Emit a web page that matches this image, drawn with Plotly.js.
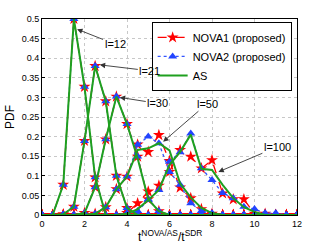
<!DOCTYPE html>
<html>
<head>
<meta charset="utf-8">
<script src="https://cdn.plot.ly/plotly-3.0.1.min.js"></script>
<style>html,body{margin:0;padding:0;background:#fff;}#chart{width:327px;height:243px;}</style>
</head>
<body>
<div id="chart"></div>
<script>
const xValues = [0,0.5,1,1.5,2,2.5,3,3.5,4,4.5,5,5.5,6,6.5,7,7.5,8,8.5,9,9.5,10,10.5,11,11.5,12];

const curveLabels = ['l=12','l=21','l=30','l=50','l=100'];
const xAxisTitle = 't<sup>NOVA/AS</sup>/t<sup>SDR</sup>';

// AS (green)
const as_l12  = [0,0,0.077,0.5,0.327,0.096,0,0,0,0,0,0,0,0,0,0,0,0,0,0,0,0,0,0,0];
const as_l21  = [0,0,0.002,0.021,0.189,0.38,0.29,0.1,0.018,0,0,0,0,0,0,0,0,0,0,0,0,0,0,0,0];
const as_l30  = [0,0,0,0,0.005,0.071,0.193,0.302,0.232,0.145,0.04,0.01,0,0,0,0,0,0,0,0,0,0,0,0,0];
const as_l50  = [0,0,0,0,0,0.003,0.02,0.066,0.098,0.166,0.17,0.183,0.165,0.08,0.045,0.018,0.005,0,0,0,0,0,0,0,0];
const as_l100 = [0,0,0,0,0,0,0,0,0.003,0.015,0.038,0.064,0.128,0.161,0.205,0.118,0.115,0.077,0.043,0.02,0.008,0,0,0,0];

// NOVA1 (proposed) - red stars
const nova1_l12  = [0,0,0.077,0.5,0.327,0.096,0,0,0,0,0,0,0,0,0,0,0,0,0,0,0,0,0,0,0];
const nova1_l21  = [0,0,0.002,0.021,0.189,0.38,0.29,0.1,0.018,0,0,0,0,0,0,0,0,0,0,0,0,0,0,0,0];
const nova1_l30  = [0,0,0,0,0.005,0.071,0.193,0.302,0.232,0.149,0.04,0.01,0,0,0,0,0,0,0,0,0,0,0,0,0];
const nova1_l50  = [0,0,0,0,0,0.003,0.02,0.066,0.098,0.18,0.161,0.204,0.138,0.07,0.043,0.015,0.003,0,0,0,0,0,0,0,0];
const nova1_l100 = [0,0,0,0,0,0,0,0,0.005,0.03,0.06,0.075,0.11,0.166,0.149,0.119,0.14,0.055,0.04,0.04,0.003,0.003,0,0,0];

// NOVA2 (proposed) - blue triangles
const nova2_l12  = [0,0,0.077,0.5,0.327,0.096,0,0,0,0,0,0,0,0,0,0,0,0,0,0,0,0,0,0,0];
const nova2_l21  = [0,0,0.002,0.021,0.189,0.38,0.29,0.1,0.018,0,0,0,0,0,0,0,0,0,0,0,0,0,0,0,0];
const nova2_l30  = [0,0,0,0,0.005,0.071,0.193,0.302,0.232,0.149,0.04,0.01,0,0,0,0,0,0,0,0,0,0,0,0,0];
const nova2_l50  = [0,0,0,0,0,0.003,0.02,0.066,0.098,0.179,0.2,0.183,0.11,0.077,0.03,0.01,0.005,0,0,0,0,0,0,0,0];
const nova2_l100 = [0,0,0,0,0,0,0,0,0.005,0.01,0.038,0.064,0.136,0.16,0.208,0.119,0.089,0.056,0.043,0.021,0.015,0.005,0.005,0,0];

const asSets = [as_l12, as_l21, as_l30, as_l50, as_l100];
const nova1Sets = [nova1_l12, nova1_l21, nova1_l30, nova1_l50, nova1_l100];
const nova2Sets = [nova2_l12, nova2_l21, nova2_l30, nova2_l50, nova2_l100];

// arrow heads of the curve labels, in data coordinates
const arrowHeadX = [1.65, 2.72, 3.66, 5.7, 8.3];
const arrowHeadY = [0.474, 0.383, 0.3, 0.187, 0.11];

const traces = [];
nova1Sets.forEach((ys, i) => traces.push({
  x: xValues, y: ys, type: 'scatter', mode: 'lines+markers',
  name: 'NOVA1 (proposed)', legendgroup: 'n1', showlegend: i === 0,
  line: {color: '#ff0000', dash: 'dash', width: 1.3},
  marker: {symbol: 'star', size: 9, color: '#ff0000'}
}));
nova2Sets.forEach((ys, i) => traces.push({
  x: xValues, y: ys, type: 'scatter', mode: 'lines+markers',
  name: 'NOVA2 (proposed)', legendgroup: 'n2', showlegend: i === 0,
  line: {color: '#3355ff', dash: 'dot', width: 1.3},
  marker: {symbol: 'triangle-up', size: 8, color: '#2244ff'}
}));
asSets.forEach((ys, i) => traces.push({
  x: xValues, y: ys, type: 'scatter', mode: 'lines',
  name: 'AS', legendgroup: 'as', showlegend: i === 0,
  line: {color: '#1fa01f', width: 2}
}));

const textOffsets = [[38,15],[50,6],[38,6],[44,-38],[59,-25]];
const annotations = curveLabels.map((t, i) => ({
  x: arrowHeadX[i], y: arrowHeadY[i], xref: 'x', yref: 'y',
  text: t, showarrow: true, arrowhead: 2, arrowsize: 1.2, arrowwidth: 0.9,
  arrowcolor: '#333', ax: textOffsets[i][0], ay: textOffsets[i][1],
  font: {size: 11, color: '#000', family: 'Liberation Sans, Arial, sans-serif'}
}));
// x-axis title, placed below the tick labels
annotations.push({
  x: 0.5, y: 0, xref: 'paper', yref: 'paper', xanchor: 'center', yanchor: 'top',
  yshift: -11, showarrow: false, text: xAxisTitle,
  font: {size: 12, color: '#000', family: 'Liberation Sans, Arial, sans-serif'}
});

const layout = {
  width: 327, height: 243,
  margin: {l: 42, r: 30, t: 19, b: 28},
  paper_bgcolor: '#fff', plot_bgcolor: '#fff',
  font: {family: 'Liberation Sans, Arial, sans-serif', size: 9, color: '#000'},
  xaxis: {
    range: [0, 12], tickvals: [0,2,4,6,8,10,12], ticktext: ['0','2','4','6','8','10','12'],
    showgrid: true, gridcolor: '#c8c8c8', griddash: 'dot', zeroline: false,
    showline: true, linecolor: '#000', linewidth: 1, mirror: true,
    ticks: 'inside', ticklen: 3, tickcolor: '#000',
    tickfont: {size: 9},
    automargin: false
  },
  yaxis: {
    range: [0, 0.5], tickvals: [0,0.05,0.1,0.15,0.2,0.25,0.3,0.35,0.4,0.45,0.5],
    ticktext: ['0','0.05','0.1','0.15','0.2','0.25','0.3','0.35','0.4','0.45','0.5'],
    showgrid: true, gridcolor: '#c8c8c8', griddash: 'dot', zeroline: false,
    showline: true, linecolor: '#000', linewidth: 1, mirror: true,
    ticks: 'inside', ticklen: 3, tickcolor: '#000',
    tickfont: {size: 9},
    automargin: false,
    title: {text: 'PDF', font: {size: 12}, standoff: 4}
  },
  legend: {
    x: 0.43, y: 0.985, xanchor: 'left', yanchor: 'top',
    bgcolor: '#fff', bordercolor: '#000', borderwidth: 1,
    font: {size: 11}, tracegroupgap: 0, itemwidth: 30
  },
  annotations: annotations,
  showlegend: true
};

Plotly.newPlot('chart', traces, layout, {staticPlot: true, displayModeBar: false});
</script>
</body>
</html>
